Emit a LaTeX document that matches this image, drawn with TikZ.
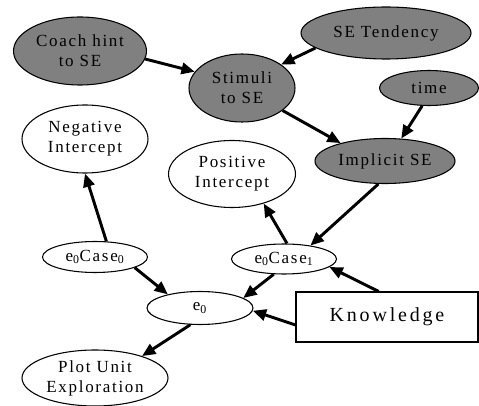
\documentclass[tikz,border=0pt]{standalone}
\usepackage{fontspec}
\setmainfont{Liberation Serif}[LetterSpace=10]
\newfontfamily\knfont{Liberation Serif}[LetterSpace=14]
\usetikzlibrary{shapes.geometric,arrows.meta}
\begin{document}
\begin{tikzpicture}[x=0.75pt,y=-0.75pt,
  nd/.style={ellipse,draw=black,line width=0.8pt,inner sep=0pt,align=center,
    font=\fontsize{12.75}{15}\selectfont},
  dark/.style={nd,fill=gray},
  light/.style={nd,fill=white},
  arr/.style={line width=2.2pt,-{Triangle[length=10pt,width=8.5pt]}}]
\useasboundingbox (0,0) rectangle (479,406);
% gray nodes
\node[dark,minimum width=133*0.75pt,minimum height=68*0.75pt] (coach) at (80,51) {Coach hint\\to SE};
\node[dark,minimum width=106*0.75pt,minimum height=68*0.75pt] (stim) at (242,88) {Stimuli\\to SE};
\node[dark,minimum width=170*0.75pt,minimum height=52*0.75pt] (tend) at (386,33) {SE Tendency};
\node[dark,minimum width=99*0.75pt,minimum height=35*0.75pt] (time) at (429,88) {time};
\node[dark,minimum width=140*0.75pt,minimum height=45*0.75pt] (impl) at (385,161) {Implicit SE};
% white nodes
\node[light,minimum width=126*0.75pt,minimum height=68*0.75pt] (neg) at (85,139) {Negative\\Intercept};
\node[light,minimum width=127*0.75pt,minimum height=67*0.75pt] (pos) at (232,174) {Positive\\Intercept};
\node[light,minimum width=105*0.75pt,minimum height=31*0.75pt] (c0) at (95,257) {e\textsubscript{0}Case\textsubscript{0}};
\node[light,minimum width=105*0.75pt,minimum height=30*0.75pt] (c1) at (284,259) {e\textsubscript{0}Case\textsubscript{1}};
\node[light,minimum width=106*0.75pt,minimum height=33*0.75pt] (e0) at (200,308) {e\textsubscript{0}};
\node[light,minimum width=146*0.75pt,minimum height=56*0.75pt] (plot) at (95,378) {Plot Unit\\Exploration};
\node[rectangle,draw=black,fill=white,line width=0.8pt,inner sep=0pt,
  minimum width=182*0.75pt,minimum height=50*0.75pt,font=\fontsize{15}{17}\knfont] (kn) at (387,317) {Knowledge};
% arrows
\draw[arr] (coach.-7) -- (stim.161);
\draw[arr] (tend.192) -- (stim.31);
\draw[arr] (stim.-29) -- (impl.158);
\draw[arr] (time.-111) -- (impl.54);
\draw[arr] (impl.-106) -- (c1.27);
\draw[arr] (c1.79) -- (pos.-43);
\draw[arr] (c0.54) -- (neg.-90);
\draw[arr] (c0.-15) -- (e0.157);
\draw[arr] (c1.-124) -- (e0.13);
\draw[arr] (kn.108) -- (c1.-10);
\draw[arr] (kn.185) -- (e0.-3);
\draw[arr] (e0.-120) -- (plot.25);
\end{tikzpicture}
\end{document}
